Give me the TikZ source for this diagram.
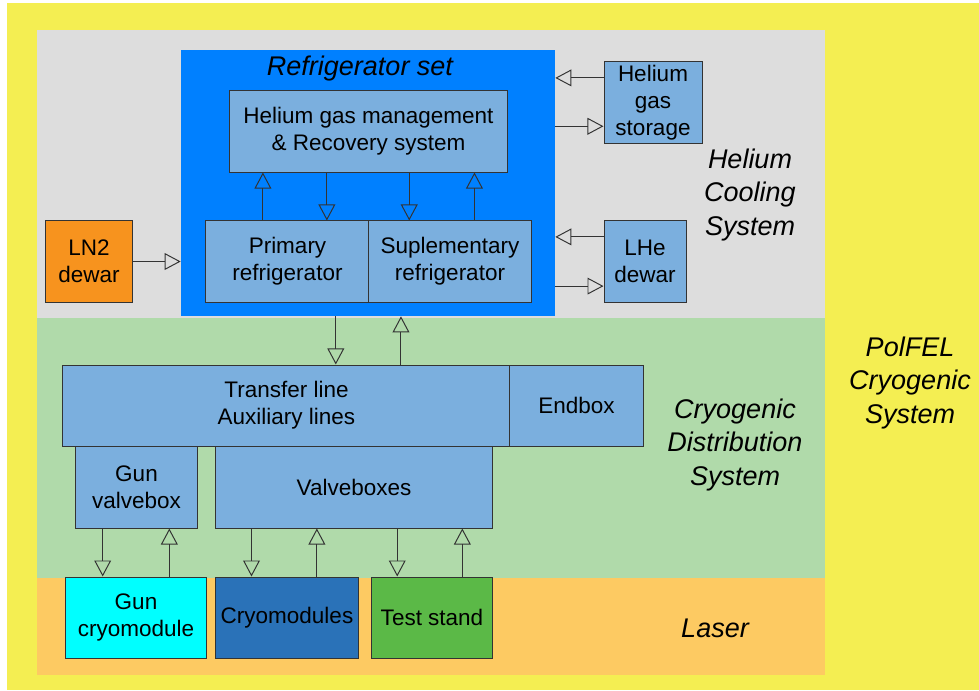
\documentclass[tikz,border=0pt]{standalone}
\usepackage{fontspec}
\setmainfont{Liberation Sans}
\usetikzlibrary{arrows.meta,calc}

\definecolor{pageyellow}{HTML}{F4EE52}
\definecolor{heliumgray}{HTML}{DDDDDD}
\definecolor{distgreen}{HTML}{B0DAAA}
\definecolor{laserorange}{HTML}{FDCA62}
\definecolor{setblue}{HTML}{0080FF}
\definecolor{unitblue}{HTML}{7BAFDE}
\definecolor{lnorange}{HTML}{F7931E}
\definecolor{guncyan}{HTML}{00FFFF}
\definecolor{cmblue}{HTML}{2A72B8}
\definecolor{standgreen}{HTML}{5BB947}
\definecolor{edgegray}{HTML}{333333}

\begin{document}
\begin{tikzpicture}[
  x=0.025cm, y=-0.025cm,
  unit/.style={draw=edgegray, line width=0.7pt, fill=unitblue, align=center, inner sep=0pt, font=\fontsize{16}{19.2}\selectfont},
  zonelabel/.style={font=\fontsize{19.2}{23.6}\selectfont\itshape, align=center},
  flow/.style={-{Triangle[open, length=0.4cm, width=0.42cm]}, draw=edgegray, line width=0.7pt}
]
  \useasboundingbox (0,0) rectangle (979,690);
  % background zones
  \fill[white] (0,0) rectangle (979,690);
  \fill[pageyellow] (7,3) rectangle (979,690);
  \fill[heliumgray] (37,30) rectangle (825,318);
  \fill[distgreen] (37,318) rectangle (825,578);
  \fill[laserorange] (37,578) rectangle (825,675);

  \node[zonelabel] (heliumlbl) at (750,195) {Helium\\Cooling\\System};
  \node[zonelabel] (distlbl) at (735,445) {Cryogenic\\Distribution\\System};
  \node[zonelabel] (polfellbl) at (910,383) {PolFEL\\Cryogenic\\System};
  \node[zonelabel] (laserlbl) at (715,628) {Laser};

  % refrigerator set
  \node[fill=setblue, minimum width=9.35cm, minimum height=6.65cm, inner sep=0pt] (refset) at (368,183) {};
  \node[zonelabel] (settitle) at (360,69) {Refrigerator set};
  \node[unit, minimum width=6.925cm, minimum height=2.025cm] (hgm) at (368.5,131.5) {Helium gas management\\\& Recovery system};
  \node[unit, minimum width=4.075cm, minimum height=2.025cm] (prim) at (287.5,261.5) {Primary\\refrigerator};
  \node[unit, minimum width=4.05cm, minimum height=2.025cm] (sup) at (450,261.5) {Suplementary\\refrigerator};

  % helium side units
  \node[unit, minimum width=2.45cm, minimum height=2.025cm] (storage) at (653,102.5) {Helium\\gas\\storage};
  \node[unit, minimum width=2.05cm, minimum height=2.025cm] (lhe) at (645,261.5) {LHe\\dewar};
  \node[unit, fill=lnorange, minimum width=2.15cm, minimum height=2.025cm] (ln2) at (89,261.5) {LN2\\dewar};

  % distribution
  \node[unit, minimum width=11.175cm, minimum height=2.025cm] (transfer) at (286.5,405.5) {Transfer line\\Auxiliary lines};
  \node[unit, minimum width=3.325cm, minimum height=2.025cm] (endbox) at (576.5,405.5) {Endbox};
  \node[unit, minimum width=3.025cm, minimum height=2.05cm] (gunvb) at (136.5,487) {Gun\\valvebox};
  \node[unit, minimum width=6.9cm, minimum height=2.05cm] (valves) at (354,487) {Valveboxes};

  % laser level
  \node[unit, fill=guncyan, minimum width=3.5cm, minimum height=2.025cm] (guncm) at (136,617.5) {Gun\\cryomodule};
  \node[unit, fill=cmblue, minimum width=3.55cm, minimum height=2.025cm] (cryomods) at (287,617.5) {Cryomodules};
  \node[unit, fill=standgreen, minimum width=3cm, minimum height=2.025cm] (stand) at (432,617.5) {Test stand};

  % flows inside the set
  \coordinate (p1) at ($(prim.north west)!.35!(prim.north east)$);
  \coordinate (p2) at ($(prim.north west)!.74!(prim.north east)$);
  \coordinate (s1) at ($(sup.north west)!.25!(sup.north east)$);
  \coordinate (s2) at ($(sup.north west)!.65!(sup.north east)$);
  \draw[flow] (p1) -- (p1 |- hgm.south);
  \draw[flow] (p2 |- hgm.south) -- (p2);
  \draw[flow] (s1 |- hgm.south) -- (s1);
  \draw[flow] (s2) -- (s2 |- hgm.south);

  % flows to the side units
  \coordinate (g1) at ($(storage.north west)!.2!(storage.south west)$);
  \coordinate (g2) at ($(storage.north west)!.79!(storage.south west)$);
  \coordinate (l1) at ($(lhe.north west)!.2!(lhe.south west)$);
  \coordinate (l2) at ($(lhe.north west)!.8!(lhe.south west)$);
  \draw[flow] (g1) -- (g1 -| refset.east);
  \draw[flow] (g2 -| refset.east) -- (g2);
  \draw[flow] (l1) -- (l1 -| refset.east);
  \draw[flow] (l2 -| refset.east) -- (l2);
  \draw[flow] (ln2.east) -- (ln2.east -| refset.west);

  % set <-> transfer line
  \coordinate (t1) at ($(refset.south west)!.414!(refset.south east)$);
  \coordinate (t2) at ($(refset.south west)!.588!(refset.south east)$);
  \draw[flow] (t1) -- (t1 |- transfer.north);
  \draw[flow] (t2 |- transfer.north) -- (t2);

  % valveboxes <-> cryomodules
  \coordinate (v1) at ($(gunvb.south west)!.223!(gunvb.south east)$);
  \coordinate (v2) at ($(gunvb.south west)!.769!(gunvb.south east)$);
  \coordinate (v3) at ($(valves.south west)!.13!(valves.south east)$);
  \coordinate (v4) at ($(valves.south west)!.366!(valves.south east)$);
  \coordinate (v5) at ($(valves.south west)!.656!(valves.south east)$);
  \coordinate (v6) at ($(valves.south west)!.891!(valves.south east)$);
  \draw[flow] (v1) -- (v1 |- guncm.north);
  \draw[flow] (v2 |- guncm.north) -- (v2);
  \draw[flow] (v3) -- (v3 |- cryomods.north);
  \draw[flow] (v4 |- cryomods.north) -- (v4);
  \draw[flow] (v5) -- (v5 |- stand.north);
  \draw[flow] (v6 |- stand.north) -- (v6);
\end{tikzpicture}
\end{document}
